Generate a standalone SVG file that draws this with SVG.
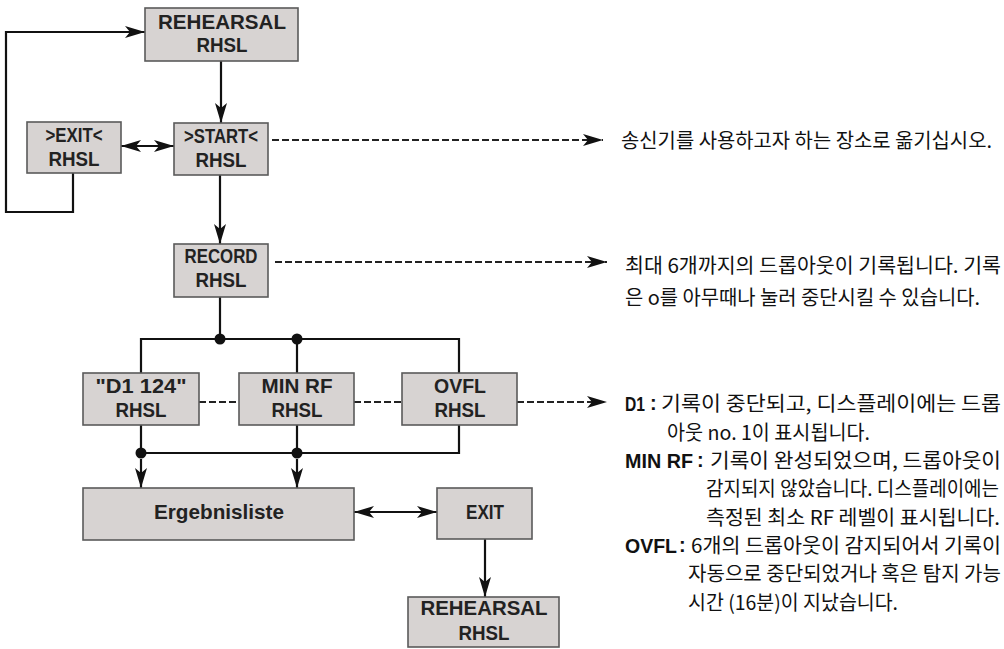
<svg xmlns="http://www.w3.org/2000/svg" width="1004" height="649" viewBox="0 0 1004 649">
<defs>
<marker id="ah" viewBox="0 0 20 12" refX="20" refY="6" markerWidth="20" markerHeight="12" markerUnits="userSpaceOnUse" orient="auto-start-reverse">
<path d="M0,0 L20,6 L0,12 L5,6 z" fill="#111"/>
</marker>
</defs>
<style>
.box{fill:#d7d3d2;stroke:#5a5a5a;stroke-width:1.6}
.bt{font-family:"Liberation Sans",Arial,sans-serif;font-weight:bold;font-size:20.5px;fill:#222;text-anchor:middle}
.ln{fill:none;stroke:#111;stroke-width:2.2}
.dl{fill:none;stroke:#222;stroke-width:2.2;stroke-dasharray:7 3}
.dot{fill:#111}
.kt{font-family:"Noto Sans CJK KR","Noto Sans",sans-serif;font-size:20px;fill:#111}
.kb{font-family:"Liberation Sans","Noto Sans CJK KR",sans-serif;font-size:20px;font-weight:bold;fill:#111}
</style>
<rect width="1004" height="649" fill="#fff"/>
<g id="connectors">
<polyline class="ln" points="73,173 73,212 6,212 6,32 145,32" marker-end="url(#ah)"/>
<line class="ln" x1="221" y1="61" x2="221" y2="123" marker-end="url(#ah)"/>
<line class="ln" x1="121" y1="146" x2="174" y2="146" marker-start="url(#ah)" marker-end="url(#ah)"/>
<line class="ln" x1="220" y1="175" x2="220" y2="244" marker-end="url(#ah)"/>
<line class="dl" x1="272" y1="140" x2="603" y2="140" marker-end="url(#ah)"/>
<line class="dl" x1="275" y1="262" x2="607" y2="262" marker-end="url(#ah)"/>
<line class="ln" x1="220" y1="297" x2="220" y2="339"/>
<polyline class="ln" points="141,373 141,339 459,339 459,373"/>
<line class="ln" x1="297" y1="339" x2="297" y2="373"/>
<circle class="dot" cx="220" cy="339" r="5.5"/>
<circle class="dot" cx="297" cy="339" r="5.5"/>
<line class="dl" x1="199" y1="402" x2="239" y2="402"/>
<line class="dl" x1="354" y1="402" x2="402" y2="402"/>
<line class="dl" x1="517" y1="402" x2="607" y2="402" marker-end="url(#ah)"/>
<polyline class="ln" points="141,425 141,453 459,453 459,425"/>
<line class="ln" x1="297" y1="425" x2="297" y2="453"/>
<circle class="dot" cx="141" cy="453" r="5.5"/>
<circle class="dot" cx="297" cy="453" r="5.5"/>
<line class="ln" x1="141" y1="459" x2="141" y2="488" marker-end="url(#ah)"/>
<line class="ln" x1="297" y1="459" x2="297" y2="488" marker-end="url(#ah)"/>
<line class="ln" x1="354" y1="512" x2="437" y2="512" marker-start="url(#ah)" marker-end="url(#ah)"/>
<line class="ln" x1="485" y1="539" x2="485" y2="597" marker-end="url(#ah)"/>
</g>
<g id="rehearsal-top">
<rect class="box" x="145" y="8" width="153" height="53"/>
<text class="bt" x="222" y="29" textLength="128" lengthAdjust="spacingAndGlyphs">REHEARSAL</text>
<text class="bt" x="222" y="52" textLength="51" lengthAdjust="spacingAndGlyphs">RHSL</text>
</g>
<g id="exit-rhsl">
<rect class="box" x="27" y="122" width="94" height="51"/>
<text class="bt" x="74" y="142" textLength="57" lengthAdjust="spacingAndGlyphs">&gt;EXIT&lt;</text>
<text class="bt" x="74" y="166" textLength="51" lengthAdjust="spacingAndGlyphs">RHSL</text>
</g>
<g id="start-rhsl">
<rect class="box" x="174" y="123" width="94" height="52"/>
<text class="bt" x="221" y="143" textLength="74" lengthAdjust="spacingAndGlyphs">&gt;START&lt;</text>
<text class="bt" x="221" y="167" textLength="51" lengthAdjust="spacingAndGlyphs">RHSL</text>
</g>
<g id="record-rhsl">
<rect class="box" x="174" y="244" width="94" height="53"/>
<text class="bt" x="221" y="263" textLength="73" lengthAdjust="spacingAndGlyphs">RECORD</text>
<text class="bt" x="221" y="287" textLength="51" lengthAdjust="spacingAndGlyphs">RHSL</text>
</g>
<g id="d1-rhsl">
<rect class="box" x="83" y="373" width="116" height="52"/>
<text class="bt" x="141" y="393" textLength="91" lengthAdjust="spacingAndGlyphs">"D1  124"</text>
<text class="bt" x="141" y="417" textLength="51" lengthAdjust="spacingAndGlyphs">RHSL</text>
</g>
<g id="minrf-rhsl">
<rect class="box" x="239" y="373" width="115" height="52"/>
<text class="bt" x="297" y="393" textLength="71" lengthAdjust="spacingAndGlyphs">MIN RF</text>
<text class="bt" x="297" y="417" textLength="51" lengthAdjust="spacingAndGlyphs">RHSL</text>
</g>
<g id="ovfl-rhsl">
<rect class="box" x="402" y="373" width="115" height="52"/>
<text class="bt" x="460" y="393" textLength="52" lengthAdjust="spacingAndGlyphs">OVFL</text>
<text class="bt" x="460" y="417" textLength="51" lengthAdjust="spacingAndGlyphs">RHSL</text>
</g>
<g id="ergebnisliste">
<rect class="box" x="83" y="488" width="271" height="52"/>
<text class="bt" x="219" y="519" textLength="130" lengthAdjust="spacingAndGlyphs">Ergebnisliste</text>
</g>
<g id="exit">
<rect class="box" x="437" y="488" width="95" height="51"/>
<text class="bt" x="485" y="519" textLength="38" lengthAdjust="spacingAndGlyphs">EXIT</text>
</g>
<g id="rehearsal-bottom">
<rect class="box" x="408" y="597" width="151" height="50"/>
<text class="bt" x="484" y="615" textLength="127" lengthAdjust="spacingAndGlyphs">REHEARSAL</text>
<text class="bt" x="484" y="640" textLength="51" lengthAdjust="spacingAndGlyphs">RHSL</text>
</g>
<g id="notes">
<text class="kt" x="621" y="148" textLength="371" lengthAdjust="spacingAndGlyphs">송신기를 사용하고자 하는 장소로 옮기십시오.</text>
<text class="kt" x="625" y="273" textLength="376" lengthAdjust="spacingAndGlyphs">최대 6개까지의 드롭아웃이 기록됩니다. 기록</text>
<text class="kt" x="625" y="305" textLength="355" lengthAdjust="spacingAndGlyphs">은 o를 아무때나 눌러 중단시킬 수 있습니다.</text>
<text class="kb" x="625" y="411" textLength="20" lengthAdjust="spacingAndGlyphs">D1</text>
<text class="kb" x="650" y="410">:</text>
<text class="kt" x="661" y="411" textLength="340" lengthAdjust="spacingAndGlyphs">기록이  중단되고, 디스플레이에는 드롭</text>
<text class="kt" x="667" y="440" textLength="203" lengthAdjust="spacingAndGlyphs">아웃 no. 1이 표시됩니다.</text>
<text class="kb" x="625" y="468" textLength="68" lengthAdjust="spacingAndGlyphs">MIN RF</text>
<text class="kb" x="697" y="467">:</text>
<text class="kt" x="710" y="468" textLength="291" lengthAdjust="spacingAndGlyphs">기록이  완성되었으며, 드롭아웃이</text>
<text class="kt" x="706" y="496" font-size="17.5" textLength="293" lengthAdjust="spacingAndGlyphs">감지되지 않았습니다. 디스플레이에는</text>
<text class="kt" x="706" y="525" textLength="294" lengthAdjust="spacingAndGlyphs">측정된 최소 RF 레벨이 표시됩니다.</text>
<text class="kb" x="625" y="553" textLength="52" lengthAdjust="spacingAndGlyphs">OVFL</text>
<text class="kb" x="679" y="552">:</text>
<text class="kt" x="691" y="553" textLength="310" lengthAdjust="spacingAndGlyphs">6개의 드롭아웃이 감지되어서 기록이</text>
<text class="kt" x="688" y="581" textLength="313" lengthAdjust="spacingAndGlyphs">자동으로 중단되었거나 혹은 탐지 가능</text>
<text class="kt" x="688" y="610" textLength="210" lengthAdjust="spacingAndGlyphs">시간 (16분)이 지났습니다.</text>
</g>
</svg>
